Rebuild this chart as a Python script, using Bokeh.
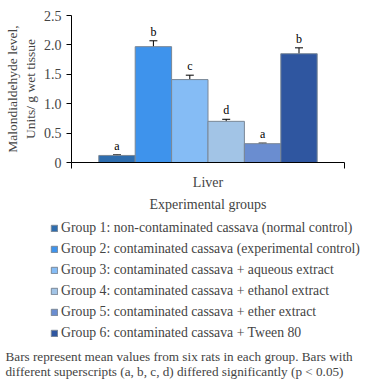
from bokeh.plotting import figure
from bokeh.models import (ColumnDataSource, FixedTicker, Whisker, TeeHead, Legend,
                          LegendItem, Label, NumeralTickFormatter, Range1d)
from bokeh.embed import file_html
from bokeh.resources import INLINE
from bokeh.core.properties import value

# ---- data ----
groups = [
    "Group 1: non-contaminated cassava (normal control)",
    "Group 2: contaminated cassava (experimental control)",
    "Group 3: contaminated cassava + aqueous extract",
    "Group 4: contaminated cassava + ethanol extract",
    "Group 5: contaminated cassava + ether extract",
    "Group 6: contaminated cassava + Tween 80",
]
means = [0.12, 1.97, 1.41, 0.70, 0.32, 1.85]
errors = [0.01, 0.10, 0.075, 0.035, 0.01, 0.10]
letters = ["a", "b", "c", "d", "a", "b"]
colors = ["#2E6DAE", "#3E93EC", "#85BCF5", "#A2C4E6", "#6A8DD0", "#2F56A0"]
category = "Liver"
y_ticks = [0, 0.5, 1.0, 1.5, 2.0, 2.5]
footnote = ["Bars represent mean values from six rats in each group. Bars with",
            "different superscripts (a, b, c, d) differed significantly (p < 0.05)"]

FONT = "Liberation Serif"
n = len(means)
bar_w = 0.8 / n
xs = [0.5 + (i - (n - 1) / 2) * bar_w for i in range(n)]

src = ColumnDataSource(dict(
    x=xs, top=means,
    upper=[m + e for m, e in zip(means, errors)],
    lower=[m - e for m, e in zip(means, errors)],
    letter=letters, color=colors, label=groups,
))

# ---------- chart ----------
p = figure(width=368, height=216, output_backend="svg", toolbar_location=None,
           x_range=Range1d(0, 1), y_range=Range1d(0, 2.5),
           min_border_left=71, min_border_right=24, min_border_top=15,
           min_border_bottom=54)
p.grid.visible = False
p.outline_line_color = None

bars = p.vbar(x="x", top="top", width=bar_w, bottom=0, source=src,
              fill_color="color", line_color="#7a8796", line_width=1)

w = Whisker(base="x", upper="upper", lower="lower", source=src,
            line_color="black", line_width=1,
            upper_head=TeeHead(size=8, line_color="black", line_width=1),
            lower_head=TeeHead(size=8, line_color="black", line_width=1))
p.add_layout(w)

p.text(x="x", y="upper", text="letter", source=src, text_align="center",
       text_baseline="bottom", y_offset=-2, text_font=value(FONT),
       text_font_size="12px", text_color="black")

ya = p.yaxis[0]
ya.ticker = FixedTicker(ticks=y_ticks)
ya.formatter = NumeralTickFormatter(format="0.0")
ya.major_label_overrides = {0: "0"}
ya.minor_tick_line_color = None
ya.major_tick_in = 0
ya.major_tick_out = 5
ya.major_label_standoff = 5
ya.major_label_text_font = FONT
ya.major_label_text_font_size = "14px"
ya.axis_label = "Malondialdehyde level,\nUnits/ g wet tissue"
ya.axis_label_text_font = FONT
ya.axis_label_text_font_size = "13.5px"
ya.axis_label_text_font_style = "normal"
ya.axis_label_standoff = 3
ya.axis_line_color = "black"
ya.major_tick_line_color = "black"

xa = p.xaxis[0]
xa.ticker = FixedTicker(ticks=[0.5], minor_ticks=[0, 1])
xa.major_label_overrides = {0.5: category}
xa.major_tick_in = 0
xa.major_tick_out = 0
xa.minor_tick_in = 0
xa.minor_tick_out = 6
xa.minor_tick_line_color = "black"
xa.major_label_standoff = 6
xa.major_label_text_font = FONT
xa.major_label_text_font_size = "14px"
xa.axis_label = "Experimental groups"
xa.axis_label_text_font = FONT
xa.axis_label_text_font_size = "14px"
xa.axis_label_text_font_style = "normal"
xa.axis_label_standoff = 4
xa.axis_line_color = "black"

# ---------- legend + footnote (second root, no frame alignment) ----------
q = figure(width=368, height=165, output_backend="svg", toolbar_location=None,
           x_range=Range1d(0, 1), y_range=Range1d(10, 11),
           min_border=0, x_axis_type=None, y_axis_type=None)
q.grid.visible = False
q.outline_line_color = None
ghost = q.vbar(x="x", top="top", width=bar_w, bottom=0, source=src,
               fill_color="color", line_color="#7a8796", line_width=1)

items = [LegendItem(label=g, renderers=[ghost], index=i) for i, g in enumerate(groups)]
leg = Legend(items=items, location=(50, 40), orientation="vertical",
             label_text_font=FONT, label_text_font_size="13.75px",
             glyph_width=8, glyph_height=8, label_height=14, spacing=5,
             label_standoff=3, padding=0, margin=0, border_line_color=None,
             background_fill_alpha=0)
q.add_layout(leg, "center")

for i, line in enumerate(footnote):
    q.add_layout(Label(x=5, y=25 - 15 * i, x_units="screen", y_units="screen",
                       text=line, text_font=FONT, text_font_size="13.2px",
                       text_baseline="middle", text_align="left"))

open("out.html", "w").write(file_html([p, q], INLINE))
